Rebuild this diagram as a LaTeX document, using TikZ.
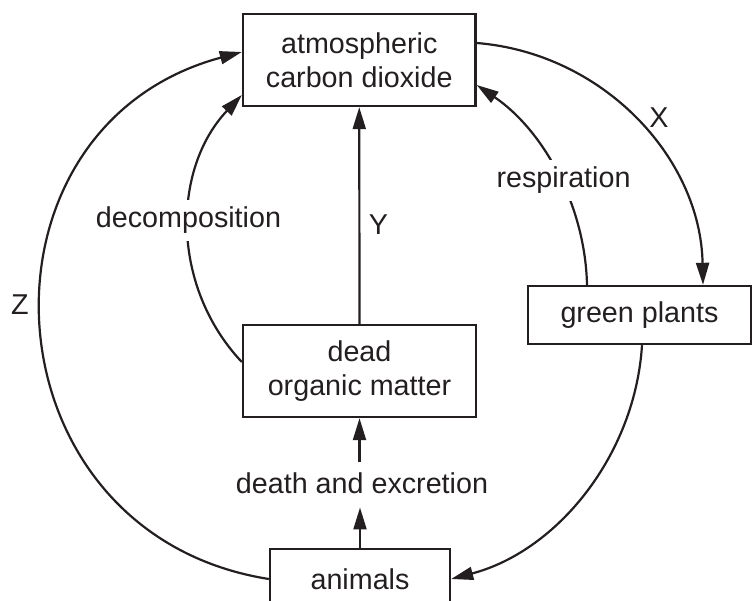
\documentclass[tikz,border=0pt]{standalone}
\usepackage{fontspec}
\setmainfont{Liberation Sans}
\usetikzlibrary{arrows.meta}
\definecolor{ink}{RGB}{35,31,32}
\begin{document}
\begin{tikzpicture}[x=1pt,y=1pt,
  font=\fontsize{28.7}{33.5}\selectfont,
  box/.style={draw=ink, line width=2.4pt, inner sep=0pt, align=center, text=ink},
  conn/.style={draw=ink, line width=2.2pt, -{Triangle[length=22pt,width=13pt]}},
  lbl/.style={text=ink, anchor=base, inner sep=0pt},
  gaplbl/.style={lbl, fill=white, inner xsep=2pt, inner ysep=7pt}
]
\useasboundingbox (0,0) rectangle (752,-601);
\clip (0,0) rectangle (752,-601);
% boxes
\node[box, minimum width=232.5pt, minimum height=92pt] (atm) at (359.25,-60) {atmospheric\\carbon dioxide};
\node[box, minimum width=223pt, minimum height=58pt] (green) at (639.5,-315) {green plants};
\node[box, minimum width=233pt, minimum height=92pt] (dead) at (359.5,-371) {dead\\organic matter};
\node[box, minimum width=180pt, minimum height=60pt] (animals) at (360,-579) {animals};
% connectors
\draw[conn] (animals.west) to[out=171,in=195,distance=291pt] ([yshift=8pt]atm.west);
\draw[conn] ([yshift=9pt]dead.west) to[out=133.3,in=226.7,distance=103pt] ([yshift=-35pt]atm.west);
\draw[conn] ([yshift=17pt]atm.east) to[out=-4.6,in=91.1,distance=127pt] ([xshift=63.5pt]green.north);
\draw[conn] ([xshift=-52.5pt]green.north) to[out=91.3,in=-34.2,distance=80pt] ([yshift=-25pt]atm.east);
\draw[conn] ([xshift=2.5pt]green.south) to[out=266.4,in=14.8,distance=110pt] (animals.east);
\draw[conn] (dead.north) -- (atm.south);
% death and excretion
\node[lbl] (dae) at (362,-493) {death and excretion};
\draw[conn, shorten >=14pt] (animals.north) -- (animals.north |- dae.south);
\draw[conn, shorten <=10pt] (dead.south |- dae.north) -- (dead.south);
% labels
\node[lbl] (lx) at (659,-128) {X};
\node[lbl] (ly) at (378.5,-235) {Y};
\node[lbl] (lz) at (20,-315) {Z};
\node[gaplbl] (lresp) at (563.5,-188) {respiration};
\node[gaplbl] (ldec) at (188.5,-228) {decomposition};
\end{tikzpicture}
\end{document}
